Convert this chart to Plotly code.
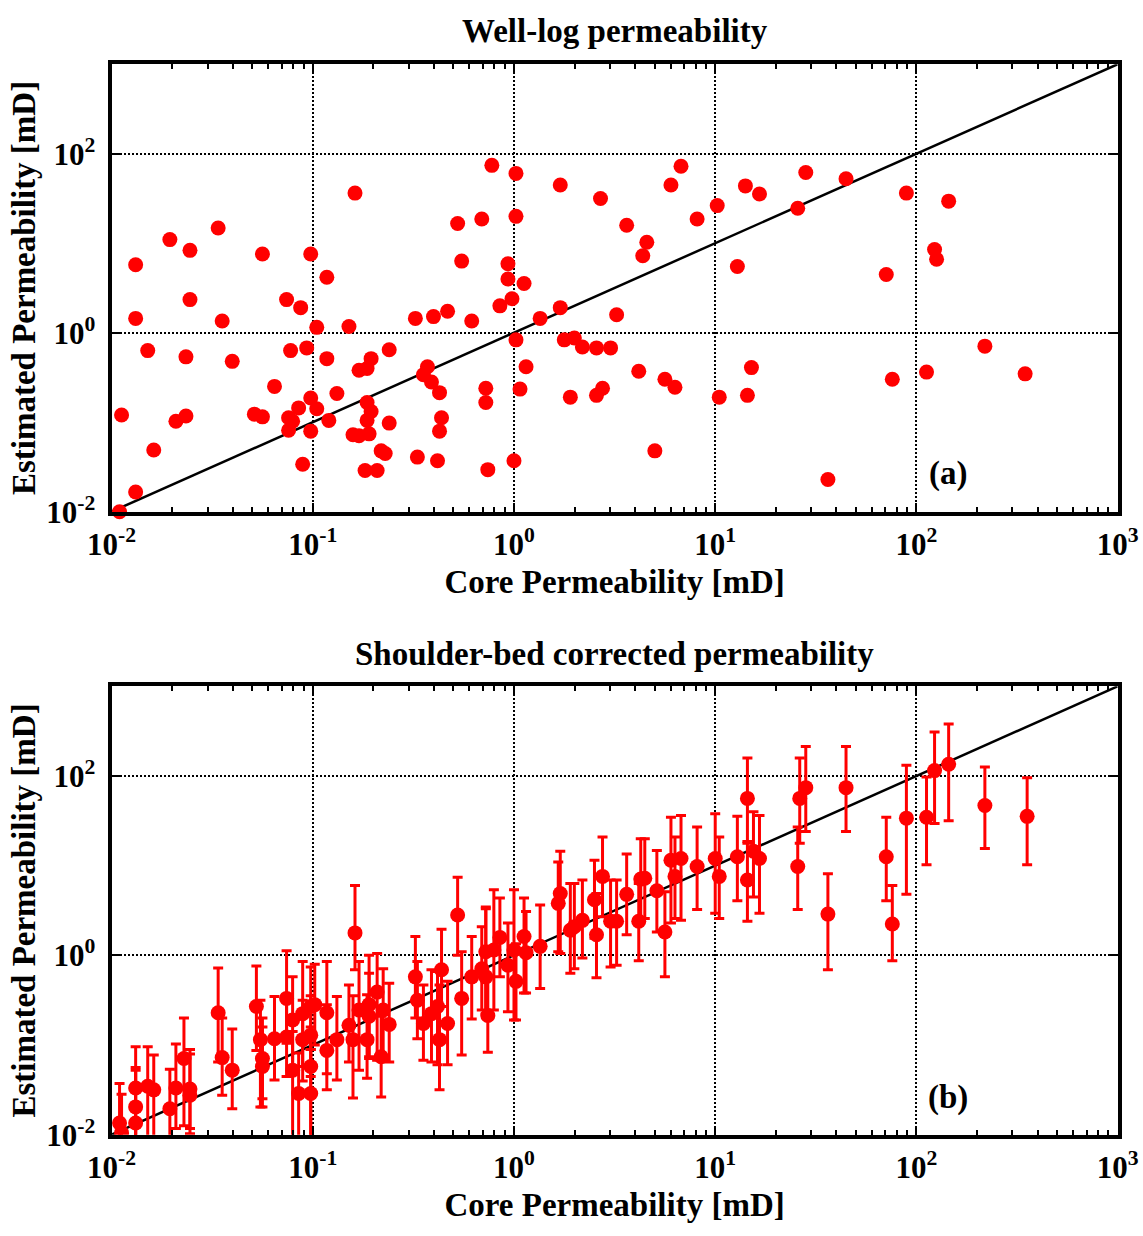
import numpy as np
import plotly.graph_objects as go

# ---------------- data (log10 of permeability in mD) ----------------
# Panel (a): well-log permeability vs core permeability
core_a_log10 = [
    -1.96, -1.88, -1.95, -1.79, -1.88, -1.88, -1.82, -1.71, -1.61, -1.47,
    -1.61, -1.63, -1.68, -1.63, -1.45, -1.40, -1.25, -1.29, -1.25, -1.19,
    -1.13, -1.06, -1.01, -0.93, -1.11, -1.03, -0.98, -0.93, -1.12, -1.10,
    -1.12, -1.07, -1.01, -0.98, -1.01, -1.05, -0.92, -0.88, -0.82, -0.79,
    -0.77, -0.73, -0.71, -0.62, -0.73, -0.71, -0.73, -0.80, -0.77, -0.72,
    -0.62, -0.66, -0.64, -0.74, -0.68, -0.49, -0.48, -0.40, -0.33, -0.21,
    -0.38, -0.45, -0.43, -0.41, -0.37, -0.36, -0.37, -0.28, -0.16, -0.26,
    -0.14, -0.14, -0.13, -0.11, 0.01, 0.01, -0.03, -0.03, 0.05, -0.01,
    -0.07, 0.01, 0.06, 0.03, 0.00, 0.13, 0.23, 0.23, 0.25, 0.30,
    0.34, 0.41, 0.48, 0.28, 0.41, 0.44, 0.43, 0.51, 0.56, 0.66,
    0.64, 0.62, 0.75, 0.80, 0.70, 0.78, 0.83, 0.91, 1.01, 1.02,
    1.15, 1.22, 1.41, 1.45, 1.65, 1.11, 1.18, 1.16, 1.56, 1.85,
    1.95, 2.16, 2.09, 2.10, 1.88, 2.05, 2.34, 2.54,
]
est_a_log10 = [
    -2.00, -1.78, -0.92, -1.31, 0.16, 0.76, -0.20, 1.04, 0.92, 1.17,
    0.37, -0.27, -0.99, -0.93, 0.13, -0.32, 0.88, -0.91, -0.94, -0.60,
    0.37, 0.28, 0.88, 0.62, -0.20, -0.17, 0.06, -0.29, -0.95, -0.99,
    -1.09, -0.84, -0.73, -0.85, -1.10, -1.47, -0.98, -0.68, 0.07, 1.56,
    -0.42, -0.40, -0.29, -0.19, -0.78, -0.88, -0.98, -1.14, -1.15, -1.13,
    -1.01, -1.32, -1.35, -1.54, -1.54, 0.16, -1.39, 0.18, 0.24, 0.13,
    -1.43, -0.47, -0.38, -0.55, -0.67, -0.95, -1.10, 1.22, 1.27, 0.80,
    -0.62, -0.78, -1.53, 1.87, 1.78, 1.30, 0.77, 0.60, 0.55, 0.38,
    0.30, -0.08, -0.38, -0.63, -1.43, 0.16, 0.28, 1.65, -0.08, -0.06,
    -0.16, -0.17, -0.17, -0.72, -0.70, -0.62, 1.50, 0.20, 1.20, 1.01,
    0.86, -0.43, -0.52, -0.61, -1.32, 1.65, 1.86, 1.27, 1.42, -0.72,
    1.64, 1.55, 1.39, 1.79, 1.72, 0.74, -0.39, -0.70, -1.64, 0.65,
    1.56, 1.47, 0.93, 0.82, -0.52, -0.44, -0.15, -0.46,
]

# Panel (b): shoulder-bed corrected permeability with error bars
core_b_log10 = [
    -1.96, -1.95, -1.88, -1.88, -1.88, -1.82, -1.79, -1.71, -1.68, -1.64,
    -1.61, -1.61, -1.47, -1.45, -1.40, -1.28, -1.26, -1.25, -1.25, -1.19,
    -1.13, -1.13, -1.10, -1.10, -1.07, -1.05, -1.05, -1.01, -1.01, -1.01,
    -1.01, -0.99, -0.93, -0.93, -0.88, -0.82, -0.80, -0.79, -0.77, -0.73,
    -0.72, -0.72, -0.68, -0.66, -0.65, -0.62, -0.49, -0.48, -0.45, -0.41,
    -0.38, -0.37, -0.36, -0.33, -0.28, -0.26, -0.21, -0.16, -0.14, -0.13,
    -0.14, -0.10, -0.07, -0.03, 0.00, 0.01, 0.05, 0.06, 0.13, 0.22,
    0.23, 0.28, 0.30, 0.34, 0.40, 0.41, 0.44, 0.48, 0.51, 0.56,
    0.62, 0.63, 0.65, 0.71, 0.75, 0.78, 0.80, 0.83, 0.91, 1.00,
    1.02, 1.11, 1.16, 1.16, 1.19, 1.22, 1.41, 1.42, 1.45, 1.56,
    1.65, 1.85, 1.88, 1.95, 2.05, 2.09, 2.16, 2.34, 2.55,
]
est_b_log10 = [
    -1.87, -1.98, -1.87, -1.69, -1.48, -1.46, -1.50, -1.71, -1.48, -1.15,
    -1.49, -1.56, -0.64, -1.14, -1.28, -0.57, -0.94, -1.15, -1.24, -0.93,
    -0.48, -0.91, -0.72, -1.28, -1.54, -0.65, -0.94, -0.57, -0.89, -1.54,
    -1.24, -0.55, -0.64, -1.06, -0.94, -0.78, -0.94, 0.25, -0.61, -0.94,
    -0.55, -0.68, -0.41, -1.13, -0.61, -0.77, -0.24, -0.50, -0.76, -0.65,
    -0.57, -0.94, -0.16, -0.76, 0.45, -0.48, -0.24, -0.15, -0.24, -0.67,
    0.04, 0.06, 0.20, -0.11, 0.06, -0.29, 0.21, 0.03, 0.10, 0.58,
    0.69, 0.28, 0.32, 0.39, 0.62, 0.23, 0.88, 0.38, 0.38, 0.68,
    0.38, 0.85, 0.86, 0.72, 0.26, 1.06, 0.88, 1.08, 0.99, 1.08,
    0.88, 1.10, 1.75, 0.84, 1.16, 1.08, 0.99, 1.75, 1.87, 0.46,
    1.87, 1.10, 0.35, 1.53, 1.54, 2.06, 2.13, 1.67, 1.55,
]
upper_b_log10 = [
    -1.43, -1.55, -1.28, -1.25, -1.02, -1.02, -1.11, -1.27, -0.99, -0.70,
    -1.05, -1.10, -0.14, -0.70, -0.82, -0.12, -0.50, -0.70, -0.80, -0.46,
    0.05, -0.45, -0.24, -0.85, -1.09, -0.07, -0.50, -0.13, -0.45, -1.05,
    -0.80, -0.10, -0.07, -0.55, -0.46, -0.33, -0.45, 0.78, -0.07, -0.44,
    0.00, -0.20, 0.02, -0.68, -0.15, -0.31, 0.21, -0.07, -0.33, -0.16,
    -0.18, -0.33, 0.29, -0.29, 0.87, 0.04, 0.21, 0.32, 0.54, -0.24,
    0.52, 0.73, 0.64, 0.36, 0.73, 0.13, 0.64, 0.49, 0.56, 1.04,
    1.16, 0.80, 0.80, 0.84, 1.06, 0.69, 1.32, 0.84, 0.84, 1.13,
    0.80, 1.30, 1.30, 1.17, 0.71, 1.54, 1.32, 1.56, 1.43, 1.58,
    1.32, 1.55, 2.20, 1.27, 1.60, 1.56, 1.43, 2.20, 2.33, 0.91,
    2.33, 1.54, 0.78, 2.12, 1.99, 2.49, 2.58, 2.10, 1.98,
]
lower_b_log10 = [
    -2.30, -2.40, -2.30, -2.10, -2.10, -2.10, -2.20, -2.10, -1.93, -1.90,
    -1.93, -1.99, -1.19, -1.56, -1.71, -1.06, -1.69, -1.60, -1.69, -1.39,
    -0.98, -1.35, -1.28, -2.20, -2.30, -1.24, -1.40, -1.05, -1.35, -2.20,
    -2.20, -1.00, -1.32, -1.50, -1.39, -1.19, -1.59, -0.16, -1.28, -1.37,
    -1.13, -1.15, -1.17, -1.58, -1.17, -1.19, -0.70, -0.93, -1.17, -1.19,
    -1.22, -1.50, -0.57, -1.22, 0.00, -1.11, -0.71, -0.61, -0.65, -1.08,
    -0.65, -0.61, -0.24, -0.63, -0.72, -0.72, -0.42, -0.42, -0.37, 0.04,
    0.02, -0.20, -0.15, -0.03, 0.19, -0.25, 0.43, -0.13, -0.11, 0.23,
    -0.06, 0.39, 0.41, 0.26, -0.24, 0.36, 0.41, 0.39, 0.51, 0.47,
    0.41, 0.61, 1.25, 0.38, 0.65, 0.47, 0.51, 1.25, 1.38, -0.16,
    1.38, 0.61, -0.06, 0.68, 1.01, 1.47, 1.50, 1.19, 1.01,
]

x_tick_vals = [1e-2, 1e-1, 1e0, 1e1, 1e2, 1e3]
x_tick_text = ["10<sup>-2</sup>", "10<sup>-1</sup>", "10<sup>0</sup>",
               "10<sup>1</sup>", "10<sup>2</sup>", "10<sup>3</sup>"]
y_tick_vals = [1e-2, 1e0, 1e2]
y_tick_text = ["10<sup>-2</sup>", "10<sup>0</sup>", "10<sup>2</sup>"]
one_to_one = [1e-2, 1e3]

# ---------------- convert ----------------
xa = 10 ** np.array(core_a_log10)
ya = 10 ** np.array(est_a_log10)
xb = 10 ** np.array(core_b_log10)
yb = 10 ** np.array(est_b_log10)
yb_hi = 10 ** np.array(upper_b_log10)
yb_lo = 10 ** np.array(lower_b_log10)

RED = "#ff0000"
FONT = "Liberation Serif"
W, H = 1143, 1236

x_minor_vals = [m * d for d in x_tick_vals[:-1] for m in range(2, 10)]

fig = go.Figure()

# Panel (a)
fig.add_trace(go.Scatter(x=one_to_one, y=one_to_one, mode="lines",
                         line=dict(color="black", width=2.5),
                         xaxis="x", yaxis="y", showlegend=False, hoverinfo="skip"))
fig.add_trace(go.Scatter(x=xa, y=ya, mode="markers",
                         marker=dict(color=RED, size=15, line=dict(width=0)),
                         xaxis="x", yaxis="y", cliponaxis=False, showlegend=False))

# Panel (b)
fig.add_trace(go.Scatter(x=one_to_one, y=one_to_one, mode="lines",
                         line=dict(color="black", width=2.5),
                         xaxis="x2", yaxis="y2", showlegend=False, hoverinfo="skip"))
fig.add_trace(go.Scatter(x=xb, y=yb, mode="markers",
                         marker=dict(color=RED, size=15, line=dict(width=0)),
                         error_y=dict(type="data", symmetric=False,
                                      array=yb_hi - yb, arrayminus=yb - yb_lo,
                                      color=RED, thickness=3, width=5),
                         xaxis="x2", yaxis="y2", cliponaxis=True, showlegend=False))

dom_x = [111.5 / W, 1117.7 / W]
dom_a = [1 - 511.7 / H, 1 - 64.2 / H]
dom_b = [1 - 1134.7 / H, 1 - 686.3 / H]

tick_font = dict(family=FONT, size=31, color="black", weight="bold")
label_font = dict(family=FONT, size=33, color="black", weight="bold")


def x_axis(anchor):
    return dict(
        type="log", range=[-2, 3], domain=dom_x, anchor=anchor, automargin=False,
        showline=True, linewidth=4, linecolor="black", mirror="allticks",
        ticks="inside", ticklen=9, tickwidth=2, tickcolor="black",
        tickmode="array", tickvals=x_tick_vals, ticktext=x_tick_text,
        tickfont=tick_font, ticklabelstandoff=2,
        showgrid=True, gridcolor="black", gridwidth=2, griddash="2px,2px",
        zeroline=False,
        minor=dict(ticks="inside", ticklen=5, tickwidth=2, tickcolor="black",
                   tickmode="array", tickvals=x_minor_vals, showgrid=False),
        title=dict(text="Core Permeability [mD]", font=label_font, standoff=10),
    )


def y_axis(domain, anchor):
    return dict(
        type="log", range=[-2, 3], domain=domain, anchor=anchor, automargin=False,
        showline=True, linewidth=4, linecolor="black", mirror="allticks",
        ticks="inside", ticklen=9, tickwidth=2, tickcolor="black",
        tickmode="array", tickvals=y_tick_vals, ticktext=y_tick_text,
        tickfont=tick_font, ticklabelstandoff=6,
        showgrid=True, gridcolor="black", gridwidth=2, griddash="2px,2px",
        zeroline=False,
        title=dict(text="Estimated Permeability [mD]", font=label_font, standoff=2),
    )


fig.update_layout(
    width=W, height=H,
    margin=dict(l=0, r=0, t=0, b=0),
    paper_bgcolor="white", plot_bgcolor="white",
    xaxis=x_axis("y"),
    yaxis=y_axis(dom_a, "x"),
    xaxis2=x_axis("y2"),
    yaxis2=y_axis(dom_b, "x2"),
)

fig.add_annotation(text="Well-log permeability", x=614.6 / W, y=1 - 31 / H,
                   xref="paper", yref="paper", showarrow=False, font=label_font,
                   xanchor="center", yanchor="middle")
fig.add_annotation(text="Shoulder-bed corrected permeability", x=614.6 / W, y=1 - 654 / H,
                   xref="paper", yref="paper", showarrow=False, font=label_font,
                   xanchor="center", yanchor="middle")
fig.add_annotation(text="(a)", x=948 / W, y=1 - 473 / H, xref="paper", yref="paper",
                   showarrow=False, font=label_font, xanchor="center", yanchor="middle")
fig.add_annotation(text="(b)", x=948 / W, y=1 - 1097 / H, xref="paper", yref="paper",
                   showarrow=False, font=label_font, xanchor="center", yanchor="middle")

fig.write_html("out.html")
